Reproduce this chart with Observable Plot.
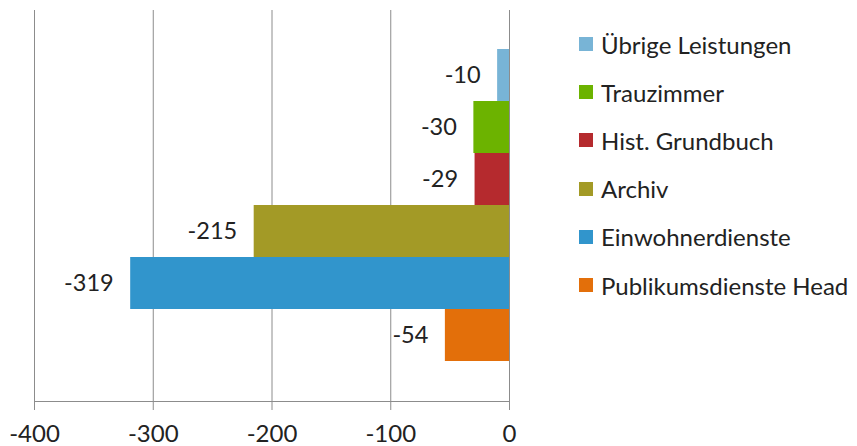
<!DOCTYPE html>
<html>
<head>
<meta charset="utf-8">
<script src="https://cdn.jsdelivr.net/npm/d3@7"></script>
<script src="https://cdn.jsdelivr.net/npm/@observablehq/plot@0.6"></script>
<style>
  html, body { margin: 0; padding: 0; background: #fff; }
  #wrap { position: relative; width: 857px; height: 446px; font-family: Lato, "Open Sans", sans-serif; }
  #legend { position: absolute; left: 579px; top: 20px; }
  .item { display: flex; align-items: center; height: 48.2px; font-size: 24px; color: #222; white-space: nowrap; }
  .sw { width: 14px; height: 14px; margin-right: 8px; flex: none; }
</style>
</head>
<body>
<div id="wrap"></div>
<script>
const series = ["Übrige Leistungen", "Trauzimmer", "Hist. Grundbuch", "Archiv", "Einwohnerdienste", "Publikumsdienste Head"];
const values = [-10, -30, -29, -215, -319, -54];
const colors = ["#78b4d6", "#6cb300", "#b52a2e", "#a39a26", "#3195cc", "#e36f0a"];
const ticks = [-400, -300, -200, -100, 0];

const data = series.map((s, i) => ({series: s, value: values[i]}));

const chart = Plot.plot({
  width: 857,
  height: 446,
  marginLeft: 34,
  marginRight: 348,
  marginTop: 10,
  marginBottom: 45,
  style: {fontFamily: "Lato, 'Open Sans', sans-serif", fontSize: "24px", color: "#222", background: "#fff"},
  x: {domain: [-400, 0], ticks: ticks, label: null},
  y: {domain: series, range: [48, 361], padding: 0, axis: null},
  color: {domain: series, range: colors},
  marks: [
    Plot.gridX(ticks, {stroke: "#8c8c8c", strokeOpacity: 1, strokeWidth: 1}),
    Plot.barX(data, {x: "value", y: "series", fill: "series", inset: 0}),
    Plot.text(data, {x: "value", y: "series", text: d => String(d.value), textAnchor: "end", dx: -17, fill: "#222", fontSize: 23.5}),
    Plot.frame({anchor: "bottom", stroke: "#8c8c8c"}),
    Plot.axisX({ticks: ticks, tickSize: 9, tickPadding: 14, stroke: "#8c8c8c", fill: "#222", fontSize: 24, label: null, tickFormat: d => String(d)})
  ]
});

const wrap = document.getElementById("wrap");
wrap.appendChild(chart);
const legend = document.createElement("div");
legend.id = "legend";
series.forEach((s, i) => {
  const it = document.createElement("div");
  it.className = "item";
  const sw = document.createElement("span");
  sw.className = "sw";
  sw.style.background = colors[i];
  const t = document.createElement("span");
  t.textContent = s;
  it.appendChild(sw);
  it.appendChild(t);
  legend.appendChild(it);
});
wrap.appendChild(legend);
</script>
</body>
</html>
